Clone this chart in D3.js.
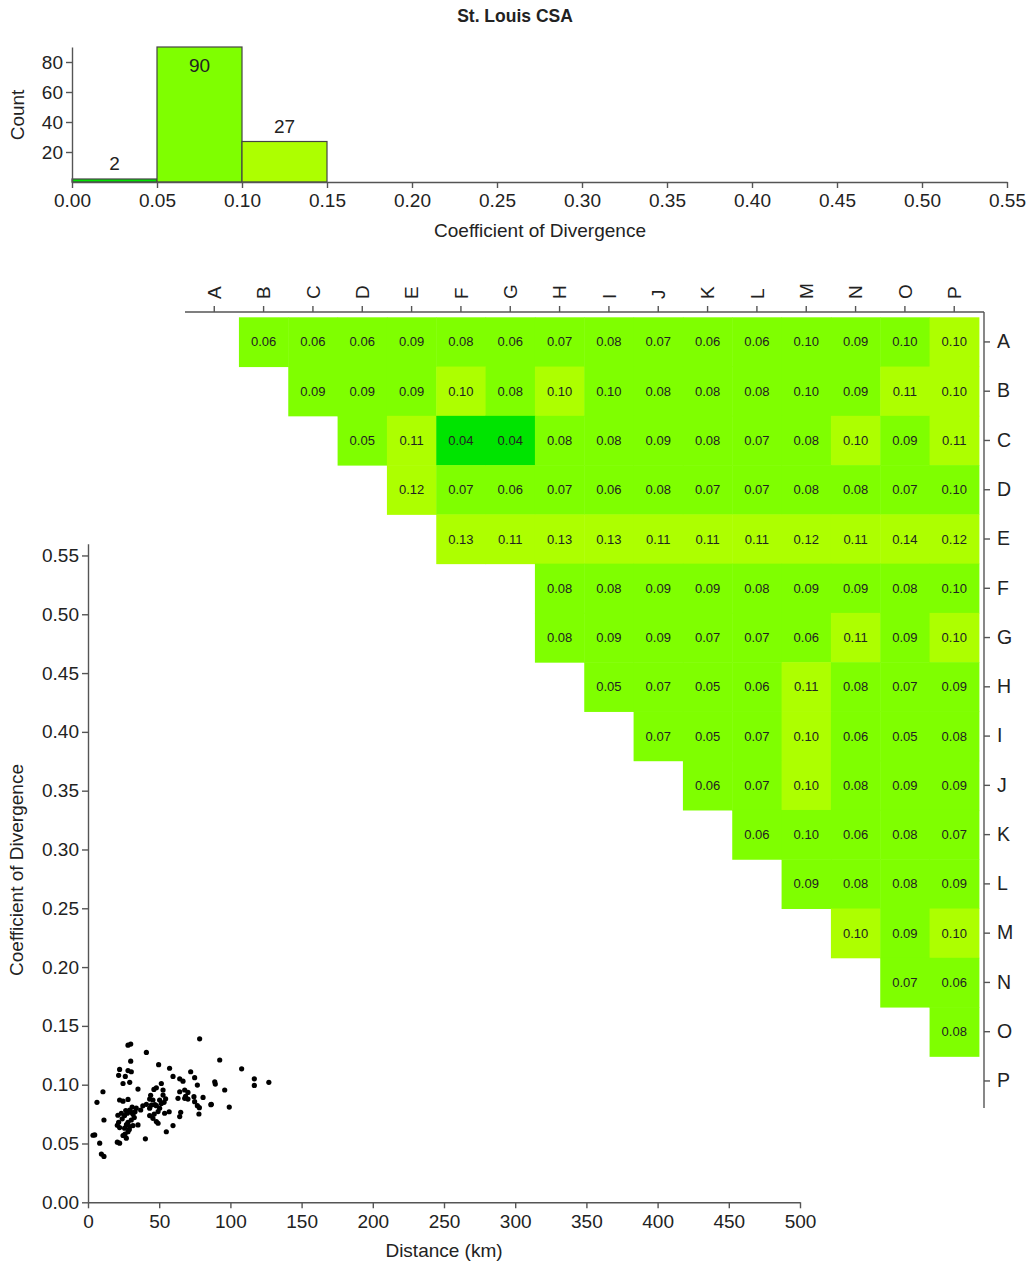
<!DOCTYPE html>
<html><head><meta charset="utf-8">
<script src="https://cdn.jsdelivr.net/npm/d3@7"></script>
<style>
body{margin:0;background:#fff;}
svg text{font-family:"Liberation Sans",Arial,sans-serif;fill:#222;}
</style>
</head><body>
<svg id="chart" width="1031" height="1264"></svg>
<script>
// ---------------- DATA ----------------
const chartTitle = "St. Louis CSA";
const binStarts = [0.00, 0.05, 0.10];
const binWidth = 0.05;
const binCounts = [2, 90, 27];
const histXTicks = [0.00,0.05,0.10,0.15,0.20,0.25,0.30,0.35,0.40,0.45,0.50,0.55];
const histYTicks = [20, 40, 60, 80];
const sites = ["A","B","C","D","E","F","G","H","I","J","K","L","M","N","O","P"];
// upper-triangle coefficient of divergence; row i lists columns i+1 .. P (null = no pair)
const codRows = [
  [0.06,0.06,0.06,0.09,0.08,0.06,0.07,0.08,0.07,0.06,0.06,0.098,0.09,0.098,0.102],
  [0.09,0.09,0.09,0.102,0.08,0.102,0.098,0.08,0.08,0.08,0.098,0.09,0.11,0.102],
  [0.05,0.11,0.042,0.042,0.08,0.08,0.09,0.08,0.07,0.08,0.102,0.09,0.11],
  [0.12,0.07,0.06,0.07,0.06,0.08,0.07,0.07,0.08,0.08,0.07,0.098],
  [0.13,0.11,0.13,0.13,0.11,0.11,0.11,0.12,0.11,0.14,0.12],
  [null,0.08,0.08,0.09,0.09,0.08,0.09,0.09,0.08,0.098],
  [0.08,0.09,0.09,0.07,0.07,0.06,0.11,0.09,0.102],
  [0.05,0.07,0.05,0.06,0.11,0.08,0.07,0.09],
  [0.07,0.05,0.07,0.102,0.06,0.05,0.08],
  [0.06,0.07,0.102,0.08,0.09,0.09],
  [0.06,0.098,0.06,0.08,0.07],
  [0.09,0.08,0.08,0.09],
  [0.102,0.09,0.102],
  [0.07,0.06],
  [0.08]
];
const scatterDist = [78.4,28.1,30.0,41.0,30.0,92.5,49.6,57.3,22.2,28.1,30.4,72.1,21.5,26.2,59.7,64.4,66.7,74.9,24.6,29.3,
  51.5,89.0,89.4,76.8,35.1,48.0,46.3,52.7,10.5,96.0,64.4,67.9,70.2,52.7,63.2,67.9,70.2,80.8,74.4,43.3,
  45.6,50.3,53.4,22.2,24.6,28.1,6.3,74.9,76.8,86.6,41.0,44.5,43.3,33.9,37.0,48.0,50.3,49.2,29.3,30.4,
  27.6,31.6,23.4,25.7,53.8,77.9,65.1,64.4,43.3,45.6,11.2,30.4,28.1,48.0,49.2,21.5,20.6,22.2,35.1,29.3,
  31.6,25.7,28.1,59.7,24.6,26.9,55.0,4.7,40.3,8.2,20.6,22.2,9.4,11.2,107.9,116.8,116.8,127.0,99.2,86.3,
  78.2,3.5,26.5,32.5,27.0,33.0,47.0,51.5,46.5,38.5,24.0,29.0,54.5,68.5,31.0,21.0,44.0,57.0,26.0];
const scatterCod = [0.139,0.1336,0.1345,0.1274,0.120,0.121,0.117,0.114,0.113,0.112,0.111,0.111,0.108,0.107,0.107,0.105,0.103,0.106,0.101,0.102,
  0.101,0.1025,0.1005,0.0997,0.0963,0.0974,0.096,0.0955,0.094,0.0955,0.094,0.0955,0.0934,0.0912,0.0884,0.0884,0.0878,0.0892,0.0898,0.0878,
  0.087,0.087,0.085,0.087,0.086,0.0875,0.085,0.0856,0.0822,0.0833,0.0833,0.0827,0.080,0.080,0.0785,0.0822,0.080,0.0771,0.0785,0.0765,
  0.0757,0.0748,0.0757,0.0737,0.0757,0.0751,0.0765,0.0729,0.0737,0.0714,0.070,0.070,0.068,0.0686,0.0672,0.068,0.0655,0.0635,0.0658,0.0644,
  0.0652,0.063,0.060,0.0652,0.0568,0.0545,0.060,0.0573,0.054,0.0503,0.0511,0.0503,0.041,0.039,0.1135,0.105,0.0994,0.102,0.081,0.083,
  0.0805,0.057,0.078,0.072,0.066,0.077,0.083,0.084,0.075,0.082,0.071,0.062,0.088,0.090,0.081,0.074,0.091,0.077,0.058];
const scatterXTicks = [0,50,100,150,200,250,300,350,400,450,500];
const scatterYTicks = [0.00,0.05,0.10,0.15,0.20,0.25,0.30,0.35,0.40,0.45,0.50,0.55];

// ---------------- STYLE ----------------
const binColors = ["#00e400", "#7fff00", "#adff00"];
const axisColor = "#555";
const FS = 19;
const svg = d3.select("#chart");
const color = d3.scaleThreshold().domain([0.05, 0.10]).range(binColors);
const f2 = d3.format(".2f");

function styleAxis(g, fs) {
  g.selectAll("path,line").attr("stroke", axisColor).attr("stroke-width", 1.4);
  g.selectAll("text").style("font-size", fs + "px").attr("fill", "#222");
}

// title
svg.append("text").attr("x", 515).attr("y", 22).attr("text-anchor", "middle")
  .style("font-size", "17.5px").style("font-weight", "bold").text(chartTitle);

// ---------------- HISTOGRAM ----------------
const xH = d3.scaleLinear().domain([0, 0.55]).range([72, 1007]);
const yH = d3.scaleLinear().domain([0, 90]).range([182, 47]);
const hist = svg.append("g");
hist.selectAll("rect").data(binCounts).join("rect")
  .attr("x", (d, i) => xH(binStarts[i]))
  .attr("width", (d, i) => xH(binStarts[i] + binWidth) - xH(binStarts[i]))
  .attr("y", d => yH(d)).attr("height", d => yH(0) - yH(d))
  .attr("fill", (d, i) => binColors[i]).attr("stroke", "#444").attr("stroke-width", 1.2);
hist.selectAll("text.cnt").data(binCounts).join("text").attr("class", "cnt")
  .attr("x", (d, i) => xH(binStarts[i] + binWidth / 2))
  .attr("y", d => d > 80 ? yH(d) + 25 : yH(d) - 9)
  .attr("text-anchor", "middle").style("font-size", FS + "px").text(d => d);
const hxa = hist.append("g").attr("transform", "translate(0,182)")
  .call(d3.axisBottom(xH).tickValues(histXTicks).tickFormat(f2).tickSize(6).tickSizeOuter(0).tickPadding(6));
styleAxis(hxa, FS);
const hya = hist.append("g").attr("transform", "translate(72,0)")
  .call(d3.axisLeft(yH).tickValues(histYTicks).tickSize(6).tickSizeOuter(0).tickPadding(3));
styleAxis(hya, FS);
svg.append("text").attr("transform", "translate(24,115) rotate(-90)").attr("text-anchor", "middle")
  .style("font-size", FS + "px").text("Count");
svg.append("text").attr("x", 540).attr("y", 237).attr("text-anchor", "middle")
  .style("font-size", FS + "px").text("Coefficient of Divergence");

// ---------------- MATRIX ----------------
const xM = d3.scaleBand().domain(sites).range([189.6, 978.9]).padding(0);
const yM = d3.scaleBand().domain(sites).range([317.3, 1105.6]).padding(0);
const cells = [];
codRows.forEach((row, i) => row.forEach((v, k) => {
  if (v !== null) cells.push({r: sites[i], c: sites[i + 1 + k], v: v});
}));
const mat = svg.append("g");
mat.selectAll("rect").data(cells).join("rect")
  .attr("x", d => xM(d.c)).attr("y", d => yM(d.r))
  .attr("width", xM.bandwidth() + 0.5).attr("height", yM.bandwidth() + 0.5)
  .attr("fill", d => color(d.v));
mat.selectAll("text").data(cells).join("text")
  .attr("x", d => xM(d.c) + xM.bandwidth() / 2).attr("y", d => yM(d.r) + yM.bandwidth() / 2)
  .attr("dy", "0.35em").attr("text-anchor", "middle").style("font-size", "13px")
  .text(d => f2(d.v));
const mxa = svg.append("g").attr("transform", "translate(0,312)")
  .call(d3.axisTop(xM).tickSize(6).tickSizeOuter(0));
mxa.select(".domain").remove();
mxa.append("line").attr("x1", 185).attr("x2", 984).attr("y1", 0).attr("y2", 0);
mxa.selectAll("text").attr("transform", "rotate(-90)").attr("x", 13).attr("y", 0)
  .attr("dy", "0.35em").style("text-anchor", "start");
styleAxis(mxa, 19);
const mya = svg.append("g").attr("transform", "translate(984,0)")
  .call(d3.axisRight(yM).tickSize(6).tickSizeOuter(0).tickPadding(7));
mya.select(".domain").remove();
mya.append("line").attr("x1", 0).attr("x2", 0).attr("y1", 312).attr("y2", 1108);
styleAxis(mya, 19.5);

// ---------------- SCATTER ----------------
const xS = d3.scaleLinear().domain([0, 500]).range([88, 800]);
const yS = d3.scaleLinear().domain([0, 0.56]).range([1202.3, 543.7]);
const sxa = svg.append("g").attr("transform", "translate(0,1202.3)")
  .call(d3.axisBottom(xS).tickValues(scatterXTicks).tickFormat(d3.format("d")).tickSize(6).tickSizeOuter(0).tickPadding(6));
styleAxis(sxa, FS);
const sya = svg.append("g").attr("transform", "translate(88,0)")
  .call(d3.axisLeft(yS).tickValues(scatterYTicks).tickFormat(f2).tickSize(6).tickSizeOuter(0).tickPadding(3));
styleAxis(sya, FS);
svg.append("g").selectAll("circle").data(scatterDist).join("circle")
  .attr("cx", d => xS(d)).attr("cy", (d, i) => yS(scatterCod[i])).attr("r", 2.6).attr("fill", "#000");
svg.append("text").attr("x", 444).attr("y", 1257).attr("text-anchor", "middle")
  .style("font-size", FS + "px").text("Distance (km)");
svg.append("text").attr("transform", "translate(23,870) rotate(-90)").attr("text-anchor", "middle")
  .style("font-size", FS + "px").text("Coefficient of Divergence");
</script>
</body></html>
